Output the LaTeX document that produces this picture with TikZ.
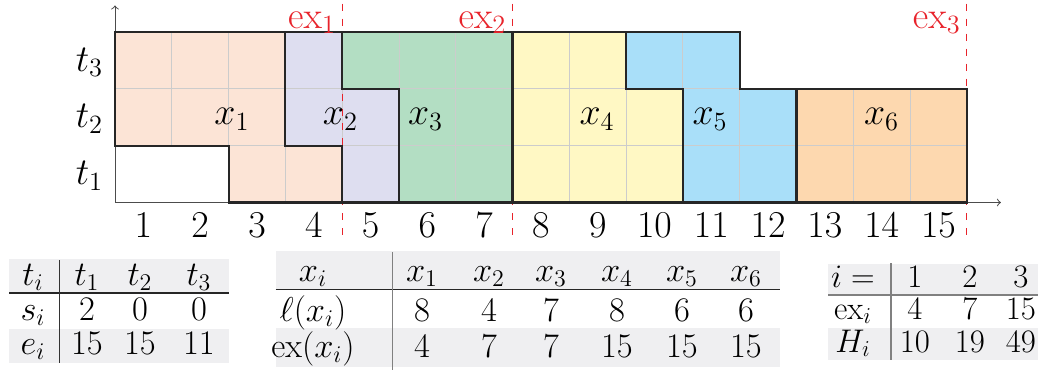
\documentclass[tikz,border=0pt]{standalone}
\usepackage{amsmath}
\definecolor{cA}{HTML}{FCE4D6}
\definecolor{cB}{HTML}{DEDEF0}
\definecolor{cC}{HTML}{B3DEC3}
\definecolor{cD}{HTML}{FFF8C4}
\definecolor{cE}{HTML}{A9DFF9}
\definecolor{cF}{HTML}{FDD8AF}
\definecolor{exred}{HTML}{E8232B}
\definecolor{tabbgc}{HTML}{EFEFF1}
\definecolor{outc}{HTML}{262626}
\begin{document}
\begin{tikzpicture}[x=0.017606cm,y=-0.017606cm,
  big/.style={font=\LARGE, scale=1.1, transform shape, inner sep=0pt},
  tab/.style={font=\LARGE, inner sep=0pt, anchor=base},
  tabs/.style={font=\LARGE, scale=0.95, transform shape, inner sep=0pt, anchor=base},
  outline/.style={draw=outc, line width=1.05pt, line join=miter},
  gridl/.style={draw=black!20, line width=0.45pt},
  axisl/.style={draw=black!70, line width=0.5pt, ->},
  exline/.style={draw=exred, line width=0.55pt, dash pattern=on 3.5pt off 4pt},
  exlab/.style={big, text=exred, anchor=base east},
  tabbg/.style={fill=tabbgc},
  tabrule/.style={draw=black!85, line width=0.6pt},
  tabvline/.style={draw=black!80, line width=0.6pt},
  tabvlinelight/.style={draw=black!50, line width=0.6pt},
  pA/.style={insert path={(0,3)--(3,3)--(3,1)--(4,1)--(4,0)--(2,0)--(2,1)--(0,1)--cycle}},
  pB/.style={insert path={(3,3)--(4,3)--(4,2)--(5,2)--(5,0)--(4,0)--(4,1)--(3,1)--cycle}},
  pC/.style={insert path={(4,3)--(7,3)--(7,0)--(5,0)--(5,2)--(4,2)--cycle}},
  pD/.style={insert path={(7,3)--(9,3)--(9,2)--(10,2)--(10,0)--(7,0)--cycle}},
  pE/.style={insert path={(9,3)--(11,3)--(11,2)--(12,2)--(12,0)--(10,0)--(10,2)--(9,2)--cycle}},
  pF/.style={insert path={(12,2)--(15,2)--(15,0)--(12,0)--cycle}}
]
\useasboundingbox (0,0) rectangle (1046,371);

\begin{scope}[shift={(115,202.5)}, x=1cm, y=1cm]
  % fills
  \fill[cA, pA];
  \fill[cB, pB];
  \fill[cC, pC];
  \fill[cD, pD];
  \fill[cE, pE];
  \fill[cF, pF];
  % grid inside the shapes
  \begin{scope}
    \clip[pA, pB, pC, pD, pE, pF];
    \draw[gridl] (0,0) grid (15,3);
  \end{scope}
  % axes
  \coordinate (O) at (0,0);
  \coordinate (xend) at (15.6,0);
  \coordinate (yend) at (0,3.47);
  \draw[axisl] (O) -- (xend);
  \draw[axisl] (O) -- (yend);
  % ex lines (under the outlines)
  \coordinate (e1t) at (4,3.5);  \coordinate (e1b) at (4,-0.64);
  \coordinate (e2t) at (7,3.5);  \coordinate (e2b) at (7,-0.64);
  \coordinate (e3t) at (15,3.5); \coordinate (e3b) at (15,-0.64);
  \draw[exline] (e1t) -- (e1b);
  \draw[exline] (e2t) -- (e2b);
  \draw[exline] (e3t) -- (e3b);
  % outlines
  \draw[outline, pA];
  \draw[outline, pB];
  \draw[outline, pC];
  \draw[outline, pD];
  \draw[outline, pE];
  \draw[outline, pF];
  \node[exlab] (ex1) at (3.9,3.07) {$\mathrm{ex}_1$};
  \node[exlab] (ex2) at (6.9,3.07) {$\mathrm{ex}_2$};
  \node[exlab] (ex3) at (14.9,3.07) {$\mathrm{ex}_3$};
  % row labels
  \node[big, anchor=east] (t3) at (-0.2,2.47) {$t_3$};
  \node[big, anchor=east] (t2) at (-0.2,1.47) {$t_2$};
  \node[big, anchor=east] (t1) at (-0.2,0.47) {$t_1$};
  % column numbers
  \foreach \k in {1,...,15} {
    \node[big, anchor=base] (n\k) at (\k-0.5,-0.625) {$\k$};
  }
  % job labels
  \node[big] (lx1) at (2.06,1.47) {$x_1$};
  \node[big] (lx2) at (3.97,1.47) {$x_2$};
  \node[big] (lx3) at (5.47,1.47) {$x_3$};
  \node[big] (lx4) at (8.49,1.47) {$x_4$};
  \node[big] (lx5) at (10.48,1.47) {$x_5$};
  \node[big] (lx6) at (13.5,1.47) {$x_6$};
\end{scope}

% ---------- table 1 ----------
\fill[tabbg] (9,259) rectangle (229,293);
\fill[tabbg] (9,328.5) rectangle (229,363);
\draw[tabrule] (9,293) -- (229,293);
\draw[tabvline] (59.3,260) -- (59.3,363);
\node[tab] (a00) at (33,285) {$t_i$};
\node[tab] (a01) at (87,285) {$t_1$};
\node[tab] (a02) at (140,285) {$t_2$};
\node[tab] (a03) at (199,285) {$t_3$};
\node[tab] (a10) at (33,320) {$s_i$};
\node[tab] (a11) at (87,320) {$2$};
\node[tab] (a12) at (140,320) {$0$};
\node[tab] (a13) at (199,320) {$0$};
\node[tab] (a20) at (33,354) {$e_i$};
\node[tab] (a21) at (87,354) {$15$};
\node[tab] (a22) at (140,354) {$15$};
\node[tab] (a23) at (199,354) {$11$};

% ---------- table 2 ----------
\fill[tabbg] (275.7,251) rectangle (780,289.5);
\fill[tabbg] (275.7,327.5) rectangle (780,367);
\draw[tabrule] (275.7,289.5) -- (780,289.5);
\draw[tabvlinelight] (392.3,252) -- (392.3,370);
\node[tab] (b00) at (313,281) {$x_i$};
\node[tab] (b10) at (313,321) {$\ell(x_i)$};
\node[tab] (b20) at (313,357) {$\mathrm{ex}(x_i)$};
\foreach \i/\x/\l/\e in {1/422/8/4, 2/489/4/7, 3/551/7/7, 4/617/8/15, 5/682/6/15, 6/746/6/15} {
  \node[tab] (b0\i) at (\x,281) {$x_\i$};
  \node[tab] (b1\i) at (\x,321) {$\l$};
  \node[tab] (b2\i) at (\x,357) {$\e$};
}

% ---------- table 3 ----------
\fill[tabbg] (828,264) rectangle (1038,295);
\fill[tabbg] (828,328) rectangle (1038,360);
\draw[tabvlinelight] (828,295) -- (1038,295);
\draw[tabvlinelight] (891,263) -- (891,360);
\node[tabs] (c00) at (853,287) {$i=$};
\node[tabs] (c10) at (853,319) {$\mathrm{ex}_i$};
\node[tabs] (c20) at (853,352) {$H_i$};
\foreach \i/\x/\e/\h in {1/915/4/10, 2/970/7/19, 3/1021/15/49} {
  \node[tabs] (c0\i) at (\x,287) {$\i$};
  \node[tabs] (c1\i) at (\x,319) {$\e$};
  \node[tabs] (c2\i) at (\x,352) {$\h$};
}
\end{tikzpicture}
\end{document}
